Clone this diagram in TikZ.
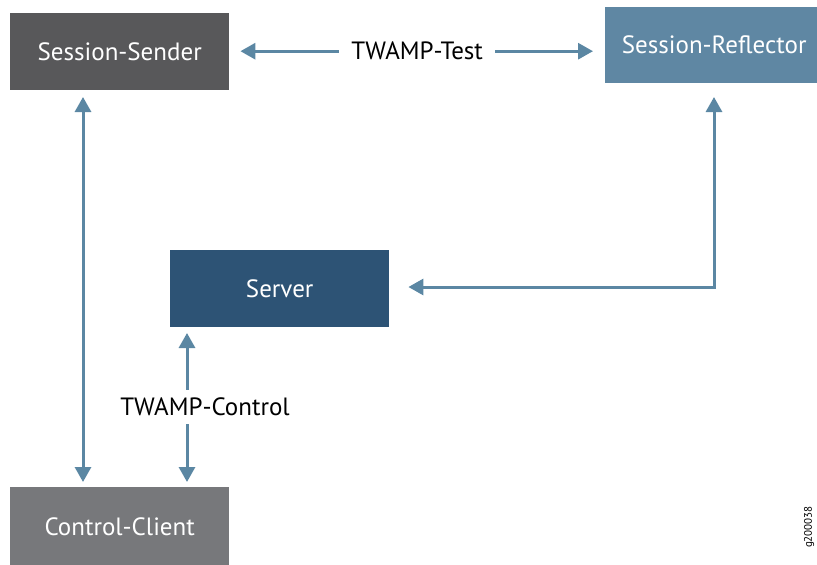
\documentclass[tikz,border=0pt]{standalone}
\usepackage{fontspec}
\setmainfont{PT Sans}
\usetikzlibrary{arrows.meta,calc}
\definecolor{senderc}{HTML}{58585A}
\definecolor{reflc}{HTML}{5F87A3}
\definecolor{serverc}{HTML}{2D5375}
\definecolor{clientc}{HTML}{77787B}
\definecolor{arrc}{HTML}{5B87A3}
\tikzset{
  box/.style={draw=none, text=white, font=\fontsize{25}{28}\selectfont, inner sep=0pt, anchor=north west},
  arr/.style={draw=arrc, line width=3pt, {Triangle[width=16pt,length=15pt]}-{Triangle[width=16pt,length=15pt]}},
  lbl/.style={fill=white, text=black, font=\fontsize{25}{28}\selectfont, inner xsep=12pt, inner ysep=6pt}
}
\begin{document}
\begin{tikzpicture}[x=1pt,y=-1pt]
\useasboundingbox (0,0) rectangle (817,565);
\node[box, fill=senderc, minimum width=219pt, minimum height=77pt] (ss) at (10,13) {Session-Sender};
\node[box, fill=reflc, minimum width=218pt, minimum height=76pt] (sr) at (605,7) {Session-Reflector};
\node[box, fill=serverc, minimum width=219pt, minimum height=77pt] (sv) at (170,250) {Server};
\node[box, fill=clientc, minimum width=219pt, minimum height=80pt] (cc) at (10,487) {Control-Client};
% TWAMP-Test
\coordinate (t1) at ($(ss.east)+(0,-0.5)$);
\draw[arr, shorten <=11pt, shorten >=12pt] (t1) -- (t1 -| sr.west) node[lbl, midway] (tt) {TWAMP-Test};
% left vertical
\coordinate (l1) at (83,90);
\coordinate (l2) at (83,487);
\draw[arr, shorten <=7pt, shorten >=5pt] (l1) -- (l2);
% reflector to server
\coordinate (r1) at (714,83);
\coordinate (r2) at (714,287);
\draw[arr, shorten <=14pt, shorten >=19pt] (r1) -- (r2) -- (r2 -| sv.east);
% TWAMP-Control
\coordinate (c1) at (187,327);
\coordinate (c2) at (187,487);
\draw[arr, shorten <=6pt, shorten >=5pt] (c1) -- (c2) node[lbl, pos=0.5, inner xsep=0pt, inner ysep=8pt, xshift=18pt] (tc) {TWAMP-Control};
% figure id
\node[rotate=90, font=\fontsize{11}{12}\selectfont, inner sep=0pt] (fid) at (809,527) {g200038};
\end{tikzpicture}
\end{document}
